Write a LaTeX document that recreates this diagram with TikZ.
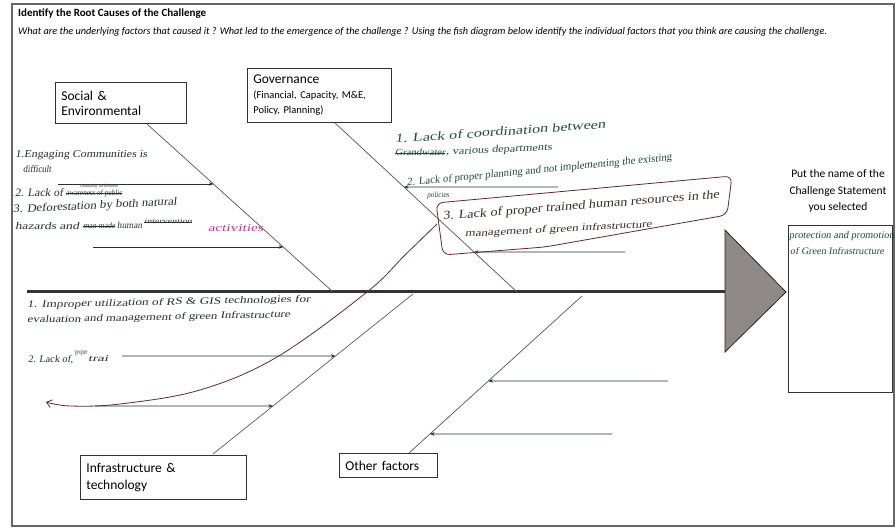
\documentclass[tikz,border=0pt]{standalone}
\usepackage{fontspec}
\setmainfont{Carlito}
\newfontfamily\hand{Liberation Serif}[FakeSlant=0.15]
\usetikzlibrary{arrows.meta,calc}
\definecolor{ink}{HTML}{24332C}
\definecolor{grn}{HTML}{1F4E3D}
\definecolor{mar}{HTML}{5E2A30}
\definecolor{gink}{HTML}{3A2A2A}
\definecolor{mag}{HTML}{C2369C}
\definecolor{bonec}{HTML}{555555}
\newcommand\hw[3][7]{\resizebox{#2pt}{#1pt}{\hand\fontsize{9}{9}\selectfont #3}}
\begin{document}
\begin{tikzpicture}[x=1pt,y=-1pt,
  lbox/.style={draw=black!80,line width=0.8pt,fill=white,align=left,inner xsep=6pt,inner ysep=0pt,anchor=north west},
  bone/.style={draw=bonec,line width=0.7pt},
  arr/.style={draw=ink,line width=0.7pt,-{Stealth[length=4.5pt,width=3.5pt]}},
  hwn/.style={anchor=base west,inner sep=0pt},
  strike/.style={line width=0.6pt}
]
\useasboundingbox (0,0) rectangle (895,529);
\fill[white] (0,0) rectangle (895,529);
\draw[black!60,line width=1.2pt] (12,4) rectangle (894,526);

% headings
\node[anchor=base west,inner sep=0pt,font=\bfseries\fontsize{11}{13}\selectfont] (title) at (18,17) {Identify the Root Causes of the Challenge};
\node[anchor=base west,inner sep=0pt] (sub) at (18,35) {\resizebox{809pt}{!}{\itshape\fontsize{9}{11}\selectfont What are the underlying factors that caused it ? What led to the emergence of the challenge ? Using the fish diagram below identify the individual factors that you think are causing the challenge.}};

% category boxes
\node[lbox,minimum width=131pt,minimum height=41pt,text width=119pt,font=\fontsize{13.5}{15}\selectfont] (soc) at (55,82) {Social \&\\Environmental};
\node[lbox,minimum width=144pt,minimum height=54pt,text width=132pt,font=\fontsize{10.5}{15}\selectfont] (gov) at (247,68) {{\fontsize{13.5}{15}\selectfont Governance}\\(Financial, Capacity, M\&E,\\Policy, Planning)};
\node[lbox,minimum width=166pt,minimum height=44pt,text width=154pt,font=\fontsize{13.5}{17}\selectfont] (inf) at (80,455) {Infrastructure \&\\technology};
\node[lbox,minimum width=98pt,minimum height=24pt,text width=86pt,inner xsep=6pt,font=\fontsize{13.5}{15}\selectfont] (oth) at (339,453) {Other factors};

% head
\node[draw=black!80,line width=0.8pt,anchor=north west,minimum width=104pt,minimum height=167pt,inner sep=0pt] (res) at (788,225) {};
\node[align=center,font=\fontsize{11.5}{16.5}\selectfont,inner sep=0pt] (reslab) at (838,191) {Put the name of the\\Challenge Statement\\you selected};

% spine and triangle
\coordinate (spS) at (27,292);
\coordinate (triT) at (725,230);
\coordinate (triA) at (786,292);
\coordinate (triB) at (725,352);
\draw[fill={rgb,255:red,142;green,136;blue,136},draw=black!85,line width=0.8pt] (triT) -- (triA) -- (triB) -- cycle;
\draw[black!80,line width=3pt] (spS) -- (725,292);

% bones
\coordinate (sT) at (147,124); \coordinate (sB) at (333,292);
\coordinate (gT) at (335,123); \coordinate (gB) at (517,292);
\coordinate (iB) at (213,454); \coordinate (iT) at (413,294);
\coordinate (oB) at (409,453); \coordinate (oT) at (582,296);
\draw[bone] (sT) -- (sB);
\draw[bone] (gT) -- (gB);
\draw[bone] (iB) -- (iT);
\draw[bone] (oB) -- (oT);

% arrows
\coordinate (s1) at (58,184); \coordinate (s1r) at (400,184);
\coordinate (s2) at (93,247); \coordinate (s2r) at (400,247);
\coordinate (g1) at (558,187); \coordinate (g1l) at (300,187);
\coordinate (g2) at (625,252); \coordinate (g2l) at (300,252);
\coordinate (i1) at (122,356); \coordinate (i1r) at (500,356);
\coordinate (i2) at (95,406); \coordinate (i2r) at (500,406);
\coordinate (o1) at (668,381); \coordinate (o1l) at (300,381);
\coordinate (o2) at (612,434); \coordinate (o2l) at (300,434);
\draw[arr] (s1) -- (intersection of s1--s1r and sT--sB);
\draw[arr] (s2) -- (intersection of s2--s2r and sT--sB);
\draw[arr] (g1) -- (intersection of g1--g1l and gT--gB);
\draw[arr] (g2) -- (intersection of g2--g2l and gT--gB);
\draw[arr] (i1) -- (intersection of i1--i1r and iB--iT);
\draw[arr] (i2) -- (intersection of i2--i2r and iB--iT);
\draw[arr] (o1) -- (intersection of o1--o1l and oB--oT);
\draw[arr] (o2) -- (intersection of o2--o2l and oB--oT);

% hand-drawn marks
\draw[mar,line width=0.8pt,rounded corners=7pt] (436,203) -- (732,176) -- (727,215) -- (545,247) -- (443,255) -- cycle;
\draw[mar,line width=0.8pt,-{Straight Barb[length=5pt,width=8pt]}] plot[smooth,tension=0.6] coordinates {(437,224) (405,255) (367,292) (277,357) (200,390) (120,404) (70,406) (46,402)};

% social texts
\node[hwn,text=ink] (st1) at (15,158) {\hw{132}{1.Engaging Communities is}};
\node[hwn,text=ink] (st2) at (23,173) {\hw{28}{difficult}};
\node[hwn,text=ink] (st3) at (15,197) {\hw[8]{48}{2. Lack of}};
\node[hwn,text=ink] (st3s) at (80,188) {\hw[3.5]{38}{community involvement}};
\node[hwn,text=ink] (st3x) at (66,196) {\hw[5.5]{56}{awareness of public}};
\draw[ink,strike] ($(st3x.base west)+(0,-2.5)$) -- ($(st3x.base east)+(0,-2.5)$);
\node[hwn,text=ink,rotate=2.8] (st4) at (13,213) {\hw[8]{164}{3. Deforestation by both natural}};
\node[hwn,text=ink] (st5) at (15,230) {\hw[7]{64}{hazards and}};
\node[hwn,text=ink] (st5x) at (83,229) {\hw[5.5]{32}{man made}};
\draw[ink,strike] ($(st5x.base west)+(0,-2.5)$) -- ($(st5x.base east)+(0,-2.5)$);
\node[hwn,text=ink] (st6) at (117,229) {\hw[6.5]{25}{human}};
\node[hwn,text=ink] (st6x) at (144,224) {\hw[4.5]{48}{intervention}};
\draw[ink,strike] ($(st6x.base west)+(0,-2)$) -- ($(st6x.base east)+(0,-2)$);
\node[hwn,text=mag] (st7) at (208,232) {\hw[7]{55}{activities}};

% governance texts
\node[hwn,text=grn,rotate=4] (gt1) at (395,143) {\hw[8.5]{211}{1. Lack of coordination between}};
\node[hwn,text=grn] (gt2x) at (395,156) {\hw[6.5]{50}{Grandwater}};
\draw[grn,strike] ($(gt2x.base west)+(0,-2.5)$) -- ($(gt2x.base east)+(0,-2.5)$);
\node[hwn,text=grn,rotate=2.5] (gt2) at (446,155) {\hw[7]{106}{, various departments}};
\node[hwn,text=grn,rotate=5.5] (gt3) at (407,186) {\hw[7.5]{266}{2. Lack of proper planning and not implementing the existing}};
\node[hwn,text=grn] (gt4) at (427,198) {\hw[5.5]{22}{policies}};
\node[hwn,text=gink,rotate=4.5] (gt5) at (443,220) {\hw[8.5]{277}{3. Lack of proper trained human resources in the}};
\node[hwn,text=gink,rotate=3] (gt6) at (465,237) {\hw[7]{187}{management of green infrastructure}};

% infrastructure texts
\node[hwn,text=ink,rotate=1.2] (it1) at (27,308) {\hw[7]{283}{1. Improper utilization of RS \& GIS technologies for}};
\node[hwn,text=ink,rotate=1.2] (it2) at (27,323) {\hw[7]{263}{evaluation and management of green Infrastructure}};
\node[hwn,text=ink] (it3) at (28,363) {\hw[7]{45}{2. Lack of,}};
\node[hwn,text=ink] (it3s) at (75,355) {\hw[3.5]{12}{proper}};
\node[hwn,text=ink] (it4) at (88,362) {\hw[6]{20}{trai}};

% challenge text
\node[hwn,text=grn] (rt1) at (789,239) {\hw[7]{105}{protection and promotion}};
\node[hwn,text=grn] (rt2) at (790,255) {\hw[7]{94}{of Green Infrastructure}};
\end{tikzpicture}
\end{document}
